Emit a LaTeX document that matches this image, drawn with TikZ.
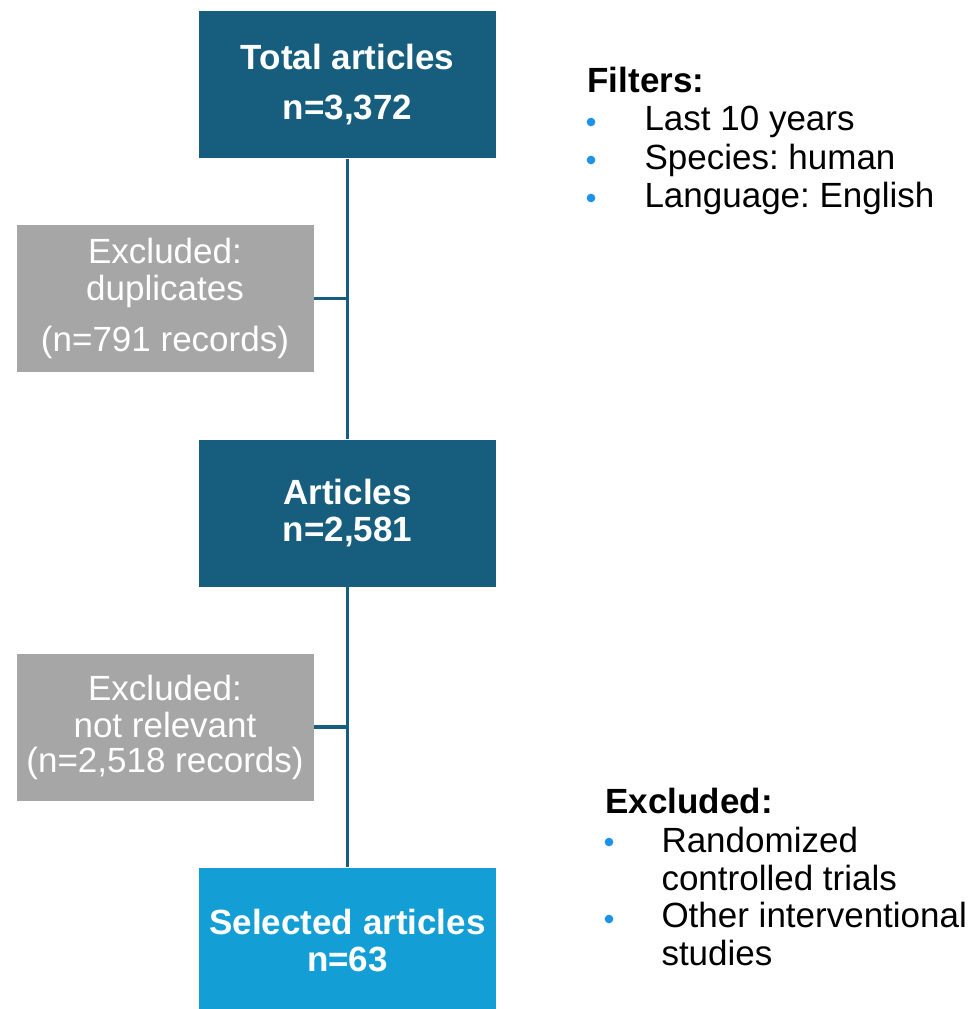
\documentclass[tikz,border=0pt]{standalone}
\usepackage{fontspec}
\setmainfont{Liberation Sans}
\frenchspacing

\definecolor{darkteal}{RGB}{23,94,126}
\definecolor{skyblue}{RGB}{19,159,214}
\definecolor{boxgray}{RGB}{166,166,166}
\definecolor{bulletblue}{RGB}{28,146,232}

\tikzset{every picture/.style={line width=0.75pt}}
\tikzset{
  box/.style={inner sep=0pt, minimum width=222.75pt, minimum height=110.25pt, align=center,
    text=white, font=\fontsize{26.25}{27.75}\selectfont},
  mainbox/.style={box, fill=darkteal, font=\bfseries\fontsize{26.25}{27.75}\selectfont},
  lastbox/.style={mainbox, fill=skyblue},
  exbox/.style={box, fill=boxgray},
  link/.style={draw=darkteal, line width=2.4pt},
  listtext/.style={anchor=base west, inner sep=0pt, font=\fontsize{26.25}{27.75}\selectfont},
  listhead/.style={listtext, font=\bfseries\fontsize{26.25}{27.75}\selectfont},
  dot/.style={circle, fill=bulletblue, inner sep=0pt, minimum size=6.5pt},
}

\begin{document}
\begin{tikzpicture}[x=0.75pt,y=0.75pt,yscale=-1,xscale=1]
\useasboundingbox (0,0) rectangle (971,1009);

% Boxes
\node [mainbox] (total) at (347.5,85) {Total articles\\[9.75pt]n=3,372};
\node [exbox] (dup) at (165,298.5) {Excluded:\\duplicates\\[10.5pt](n=791 records)};
\node [mainbox] (articles) at (347.5,513) {Articles\\n=2,581};
\node [exbox] (irrel) at (165,727) {Excluded:\\not relevant\\[-1.5pt](n=2,518 records)};
\node [lastbox] (selected) at (347.5,941) {Selected articles\\n=63};

% Connectors
\draw [link] (total) -- (articles);
\draw [link] (articles) -- (selected);
\draw [link] (dup.east) -- (dup.east -| total);
\draw [link] (irrel.east) -- (irrel.east -| articles);

% Filters list
\node [listhead] (filters) at (587,93) {Filters:};
\node [dot] (fb1) at (591,122) {};
\node [listtext] (f1) at (644,131) {Last 10 years};
\node [dot] (fb2) at (591,160) {};
\node [listtext] (f2) at (644,170) {Species: human};
\node [dot] (fb3) at (591,198) {};
\node [listtext] (f3) at (644,208) {Language: English};

% Excluded list
\node [listhead] (excl) at (605,813) {Excluded:};
\node [dot] (eb1) at (609,842) {};
\node [listtext] (e1) at (661,852) {Randomized};
\node [listtext] (e1b) at (661,890) {controlled trials};
\node [dot] (eb2) at (609,919) {};
\node [listtext] (e2) at (661,927) {Other interventional};
\node [listtext] (e2b) at (661,965) {studies};

\end{tikzpicture}
\end{document}
